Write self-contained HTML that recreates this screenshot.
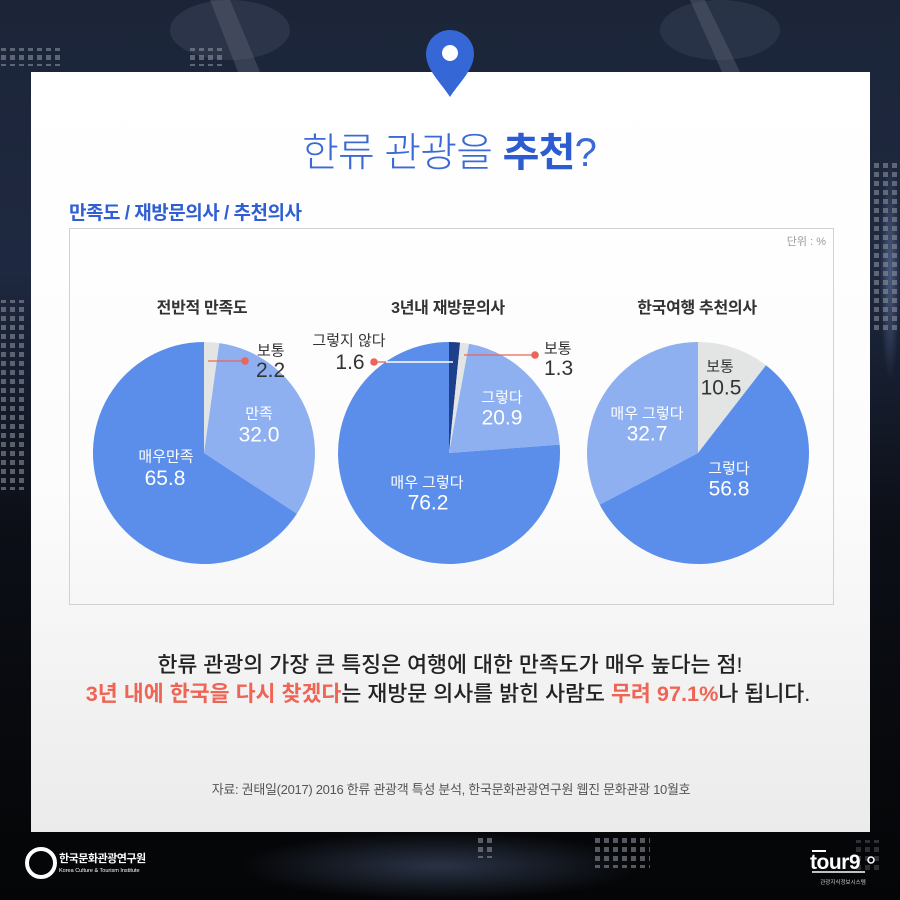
<!DOCTYPE html>
<html><head><meta charset="utf-8">
<style>
html,body{margin:0;padding:0;width:900px;height:900px;overflow:hidden;background:#0a0c12;position:relative;}
svg{display:block;position:absolute;left:0;top:0;}
text{font-family:"Liberation Sans","Noto Sans CJK KR",sans-serif;}
</style></head>
<body>
<svg width="900" height="900" viewBox="0 0 900 900" xmlns="http://www.w3.org/2000/svg">
<defs>
<linearGradient id="bg" x1="0" y1="0" x2="0" y2="1">
<stop offset="0" stop-color="#1c2538"/>
<stop offset="0.3" stop-color="#1e2840"/>
<stop offset="0.58" stop-color="#0c0f17"/>
<stop offset="1" stop-color="#040506"/>
</linearGradient>
<linearGradient id="panel" x1="0" y1="0" x2="0" y2="1">
<stop offset="0" stop-color="#ffffff"/>
<stop offset="0.55" stop-color="#fcfcfc"/>
<stop offset="1" stop-color="#ebebeb"/>
</linearGradient>
<radialGradient id="glowR" cx="0.5" cy="0.5" r="0.5">
<stop offset="0" stop-color="#4a5b7e"/>
<stop offset="1" stop-color="#4a5b7e" stop-opacity="0"/>
</radialGradient>
<radialGradient id="glowB" cx="0.5" cy="0.5" r="0.5">
<stop offset="0" stop-color="#2a3346"/>
<stop offset="1" stop-color="#2a3346" stop-opacity="0"/>
</radialGradient>
<pattern id="dots" width="9" height="9" patternUnits="userSpaceOnUse">
<rect x="1" y="1" width="5" height="5" fill="#8a8f99" fill-opacity="0.6"/>
</pattern>
</defs>

<!-- background -->
<rect x="0" y="0" width="900" height="900" fill="url(#bg)"/>
<ellipse cx="890" cy="270" rx="10" ry="110" fill="url(#glowR)"/>
<ellipse cx="440" cy="866" rx="200" ry="34" fill="url(#glowB)"/>
<ellipse cx="230" cy="30" rx="60" ry="30" fill="#3a4458" fill-opacity="0.5"/>
<ellipse cx="720" cy="30" rx="60" ry="30" fill="#3a4458" fill-opacity="0.45"/>
<polygon points="210,0 230,0 260,72 238,72" fill="#6a7080" fill-opacity="0.35"/>
<polygon points="690,0 705,0 740,72 722,72" fill="#6a7080" fill-opacity="0.35"/>
<!-- dot grids -->
<rect x="0" y="48" width="62" height="18" fill="url(#dots)"/>
<rect x="190" y="48" width="36" height="18" fill="url(#dots)"/>
<rect x="0" y="300" width="27" height="190" fill="url(#dots)"/>
<rect x="872" y="160" width="28" height="170" fill="url(#dots)"/>
<rect x="475" y="838" width="20" height="20" fill="url(#dots)"/>
<rect x="595" y="838" width="55" height="30" fill="url(#dots)"/>
<rect x="855" y="840" width="27" height="30" fill="url(#dots)" opacity="0.5"/>

<!-- panel -->
<rect x="31" y="72" width="839" height="760" fill="url(#panel)"/>

<!-- pin -->
<path d="M450,97 C442,84 426,70 426,54 A24,24 0 0 1 474,54 C474,70 458,84 450,97 Z" fill="#3567d6"/>
<circle cx="450" cy="53" r="8" fill="#ffffff"/>

<!-- title -->
<text x="449" y="166" text-anchor="middle" font-size="40" fill="#3b6ad6" letter-spacing="-0.8"><tspan font-weight="300">한류 관광을 </tspan><tspan font-weight="700" fill="#2d5bd0">추천</tspan><tspan font-weight="300">?</tspan></text>

<!-- subtitle -->
<text x="69" y="219" font-size="19" font-weight="700" fill="#2f5fd2" letter-spacing="-0.5">만족도 / 재방문의사 / 추천의사</text>

<!-- chart box -->
<rect x="69.5" y="228.5" width="764" height="376" fill="none" stroke="#d2d2d2" stroke-width="1"/>
<text x="826" y="245" text-anchor="end" font-size="11" fill="#9a9a9a">단위 : %</text>

<!-- pie titles -->
<text x="202" y="313" text-anchor="middle" font-size="16" font-weight="700" fill="#333333" letter-spacing="-0.3">전반적 만족도</text>
<text x="448" y="313" text-anchor="middle" font-size="16" font-weight="700" fill="#333333" letter-spacing="-0.3">3년내 재방문의사</text>
<text x="697" y="313" text-anchor="middle" font-size="16" font-weight="700" fill="#333333" letter-spacing="-0.3">한국여행 추천의사</text>

<!-- Pie 1 -->
<path d="M204,453 L204,342 A111,111 0 0 1 219.3,343.1 Z" fill="#e3e4e4"/>
<path d="M204,453 L219.3,343.1 A111,111 0 0 1 296.9,513.7 Z" fill="#8eb0f1"/>
<path d="M204,453 L296.9,513.7 A111,111 0 1 1 204,342 Z" fill="#5b8eeb"/>
<line x1="208" y1="361" x2="245" y2="361" stroke="#e8675a" stroke-width="1.3"/>
<circle cx="245" cy="361" r="3.8" fill="#e8675a"/>
<text x="257" y="355.5" font-size="15" fill="#333">보통</text>
<text x="256" y="377" font-size="21" fill="#333">2.2</text>
<text x="259" y="418.5" text-anchor="middle" font-size="15" fill="#ffffff">만족</text>
<text x="259" y="441.5" text-anchor="middle" font-size="21" fill="#ffffff">32.0</text>
<text x="166" y="461.5" text-anchor="middle" font-size="15" fill="#ffffff">매우만족</text>
<text x="165" y="485" text-anchor="middle" font-size="21" fill="#ffffff">65.8</text>

<!-- Pie 2 -->
<path d="M449,453 L449,342 A111,111 0 0 1 460.1,342.6 Z" fill="#1d3f8c"/>
<path d="M449,453 L460.1,342.6 A111,111 0 0 1 469.1,343.8 Z" fill="#e3e4e4"/>
<path d="M449,453 L469.1,343.8 A111,111 0 0 1 559.7,444.6 Z" fill="#8eb0f1"/>
<path d="M449,453 L559.7,444.6 A111,111 0 1 1 449,342 Z" fill="#5b8eeb"/>
<line x1="374" y1="362" x2="386" y2="362" stroke="#e8675a" stroke-width="1.3"/>
<line x1="386" y1="362" x2="453" y2="362" stroke="#ffffff" stroke-width="1.5"/>
<circle cx="374" cy="362" r="3.8" fill="#e8675a"/>
<line x1="464" y1="355" x2="535" y2="355" stroke="#e8675a" stroke-width="1.3"/>
<circle cx="535" cy="355" r="3.8" fill="#e8675a"/>
<text x="349" y="345.5" text-anchor="middle" font-size="15" fill="#333">그렇지 않다</text>
<text x="350" y="369" text-anchor="middle" font-size="21" fill="#333">1.6</text>
<text x="544" y="353.5" font-size="15" fill="#333">보통</text>
<text x="544" y="375" font-size="21" fill="#333">1.3</text>
<text x="502" y="402.5" text-anchor="middle" font-size="15" fill="#ffffff">그렇다</text>
<text x="502" y="424.5" text-anchor="middle" font-size="21" fill="#ffffff">20.9</text>
<text x="427" y="487.5" text-anchor="middle" font-size="15" fill="#ffffff">매우 그렇다</text>
<text x="428" y="509.5" text-anchor="middle" font-size="21" fill="#ffffff">76.2</text>

<!-- Pie 3 -->
<path d="M698,453 L698,342 A111,111 0 0 1 766.0,365.3 Z" fill="#e3e4e4"/>
<path d="M698,453 L766.0,365.3 A111,111 0 1 1 599.7,504.6 Z" fill="#5b8eeb"/>
<path d="M698,453 L599.7,504.6 A111,111 0 0 1 698,342 Z" fill="#8eb0f1"/>
<text x="720" y="371.5" text-anchor="middle" font-size="15" fill="#333">보통</text>
<text x="721" y="394.5" text-anchor="middle" font-size="21" fill="#333">10.5</text>
<text x="647" y="418.5" text-anchor="middle" font-size="15" fill="#ffffff">매우 그렇다</text>
<text x="647" y="440.5" text-anchor="middle" font-size="21" fill="#ffffff">32.7</text>
<text x="729" y="473.5" text-anchor="middle" font-size="15" fill="#ffffff">그렇다</text>
<text x="729" y="495.5" text-anchor="middle" font-size="21" fill="#ffffff">56.8</text>

<!-- bottom text -->
<text x="450" y="672" text-anchor="middle" font-size="21.7" font-weight="500" fill="#222222">한류 관광의 가장 큰 특징은 여행에 대한 만족도가 매우 높다는 점!</text>
<text x="448" y="701" text-anchor="middle" font-size="21.7" font-weight="500" fill="#222222"><tspan font-weight="700" fill="#ef6555">3년 내에 한국을 다시 찾겠다</tspan><tspan>는 재방문 의사를 밝힌 사람도 </tspan><tspan font-weight="700" fill="#ef6555">무려 97.1%</tspan><tspan>나 됩니다.</tspan></text>

<text x="451" y="794" text-anchor="middle" font-size="13" fill="#555555" letter-spacing="-0.3">자료: 권태일(2017) 2016 한류 관광객 특성 분석, 한국문화관광연구원 웹진 문화관광 10월호</text>

<!-- left logo -->
<circle cx="41" cy="863" r="14" fill="none" stroke="#ffffff" stroke-width="4"/>
<text x="59" y="862" font-size="11" font-weight="700" fill="#ffffff" letter-spacing="-0.5">한국문화관광연구원</text>
<text x="59" y="872" font-size="5.5" fill="#ffffff">Korea Culture &amp; Tourism Institute</text>

<!-- right logo -->
<line x1="812" y1="851" x2="826" y2="851" stroke="#ffffff" stroke-width="2"/>
<text x="810" y="869" font-size="21" font-weight="700" fill="#ffffff" letter-spacing="-0.5">tour9</text>
<line x1="812" y1="872" x2="865" y2="872" stroke="#ffffff" stroke-width="1.5"/>
<circle cx="871" cy="860" r="3" fill="none" stroke="#ffffff" stroke-width="1.5"/>
<text x="843" y="884" text-anchor="middle" font-size="5.5" fill="#cccccc">관광지식정보시스템</text>
</svg>
</body></html>
